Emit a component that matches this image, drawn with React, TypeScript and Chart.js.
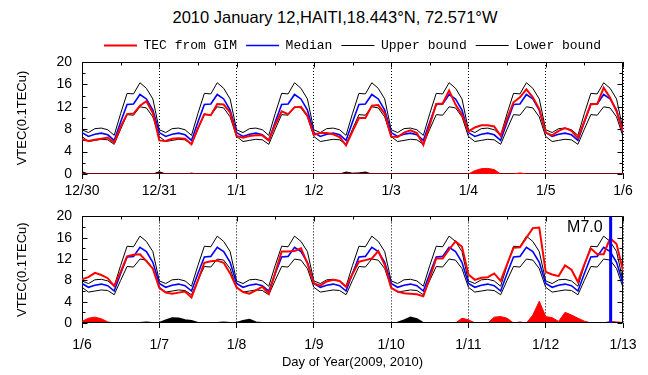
import React, { useEffect, useRef } from "react";
import { Chart, registerables } from "chart.js";

Chart.register(...registerables);

const TITLE = "2010 January 12,HAITI,18.443°N, 72.571°W";
const SERIES_NAMES = ["TEC from GIM", "Median", "Upper bound", "Lower bound"];
const Y_TITLE = "VTEC(0.1TECu)";
const X_TITLE = "Day of Year(2009, 2010)";
const DAY_LABELS_TOP = ["12/30", "12/31", "1/1", "1/2", "1/3", "1/4", "1/5", "1/6"];
const DAY_LABELS_BOTTOM = ["1/6", "1/7", "1/8", "1/9", "1/10", "1/11", "1/12", "1/13"];
const Y_MIN = 0;
const Y_MAX = 20;
const Y_STEP = 4;
const POINTS_PER_DAY = 12;
const QUAKE_DAY = 6.84; // days after 1/6 in lower panel
const QUAKE_LABEL = "M7.0";

// ---------- upper panel (12/30 - 1/6), 2-hour values ----------
const TEC_TOP = [
  6.2, 5.9, 6.1, 6.3, 6.5, 5.6, 8.4, 10.7, 10.8, 12.2, 13.0, 10.9,
  6.0, 5.9, 6.3, 6.4, 6.3, 5.3, 8.2, 10.7, 10.5, 12.5, 12.4, 11.0,
  6.8, 6.5, 6.8, 6.9, 6.9, 6.0, 8.8, 11.2, 10.7, 11.9, 12.0, 10.4,
  7.0, 7.3, 7.3, 7.1, 6.6, 5.1, 7.6, 10.0, 10.0, 12.2, 12.3, 10.8,
  6.7, 6.6, 7.4, 7.8, 7.3, 5.2, 8.8, 12.5, 12.6, 14.9, 12.4, 10.6,
  7.6, 8.3, 8.7, 8.7, 8.5, 6.8, 9.9, 12.8, 13.7, 15.1, 13.7, 11.6,
  7.4, 6.9, 7.7, 8.2, 7.7, 6.4, 9.4, 12.5, 12.5, 15.4, 13.6, 11.2,
  7.6,
];
const MEDIAN_TOP = [
  7.4, 6.7, 7.1, 7.3, 7.0, 6.0, 9.3, 12.4, 12.5, 14.2, 13.4, 11.4,
  7.4, 6.7, 7.1, 7.3, 7.0, 6.0, 9.3, 12.4, 12.5, 14.2, 13.4, 11.4,
  7.4, 6.7, 7.1, 7.3, 7.0, 6.0, 9.3, 12.4, 12.5, 14.2, 13.4, 11.4,
  7.4, 6.7, 7.1, 7.3, 7.0, 6.0, 9.3, 12.4, 12.5, 14.2, 13.4, 11.4,
  7.4, 6.7, 7.1, 7.3, 7.0, 6.0, 9.3, 12.4, 12.5, 14.2, 13.4, 11.4,
  7.4, 6.7, 7.1, 7.3, 7.0, 6.0, 9.3, 12.4, 12.5, 14.2, 13.4, 11.4,
  7.4, 6.7, 7.1, 7.3, 7.0, 6.0, 9.3, 12.4, 12.5, 14.2, 13.4, 11.4,
  7.4,
];
const UPPER_TOP = [
  7.9, 7.4, 8.1, 8.2, 7.9, 6.9, 10.8, 14.4, 14.3, 16.3, 15.3, 13.4,
  7.9, 7.4, 8.1, 8.2, 7.9, 6.9, 10.8, 14.4, 14.3, 16.3, 15.3, 13.4,
  7.9, 7.4, 8.1, 8.2, 7.9, 6.9, 10.8, 14.4, 14.3, 16.3, 15.3, 13.4,
  7.9, 7.4, 8.1, 8.2, 7.9, 6.9, 10.8, 14.4, 14.3, 16.3, 15.3, 13.4,
  7.9, 7.4, 8.1, 8.2, 7.9, 6.9, 10.8, 14.4, 14.3, 16.3, 15.3, 13.4,
  7.9, 7.4, 8.1, 8.2, 7.9, 6.9, 10.8, 14.4, 14.3, 16.3, 15.3, 13.4,
  7.9, 7.4, 8.1, 8.2, 7.9, 6.9, 10.8, 14.4, 14.3, 16.3, 15.3, 13.4,
  7.9,
];
const LOWER_TOP = [
  6.7, 5.8, 6.0, 6.2, 6.1, 5.3, 8.0, 10.6, 10.5, 12.0, 11.8, 10.2,
  6.7, 5.8, 6.0, 6.2, 6.1, 5.3, 8.0, 10.6, 10.5, 12.0, 11.8, 10.2,
  6.7, 5.8, 6.0, 6.2, 6.1, 5.3, 8.0, 10.6, 10.5, 12.0, 11.8, 10.2,
  6.7, 5.8, 6.0, 6.2, 6.1, 5.3, 8.0, 10.6, 10.5, 12.0, 11.8, 10.2,
  6.7, 5.8, 6.0, 6.2, 6.1, 5.3, 8.0, 10.6, 10.5, 12.0, 11.8, 10.2,
  6.7, 5.8, 6.0, 6.2, 6.1, 5.3, 8.0, 10.6, 10.5, 12.0, 11.8, 10.2,
  6.7, 5.8, 6.0, 6.2, 6.1, 5.3, 8.0, 10.6, 10.5, 12.0, 11.8, 10.2,
  6.7,
];
// exceedance above upper bound (red) and below lower bound (black)
const OVER_TOP = [
  0, 0, 0, 0, 0, 0, 0, 0, 0, 0, 0, 0,
  0, 0, 0, 0, 0, 0, 0, 0, 0, 0, 0, 0,
  0, 0, 0, 0, 0, 0, 0, 0, 0, 0, 0, 0,
  0, 0, 0, 0, 0, 0, 0, 0, 0, 0, 0, 0,
  0, 0, 0, 0, 0, 0, 0, 0, 0, 0, 0, 0,
  0, 0.6, 0.95, 1.0, 0.8, 0, 0, 0, 0.2, 0, 0, 0,
  0, 0, 0, 0, 0, 0, 0, 0, 0, 0, 0, 0,
  0,
];
const UNDER_TOP = [
  0.4, 0, 0, 0, 0, 0, 0, 0, 0, 0, 0, 0,
  0.4, 0, 0, 0, 0, 0.15, 0, 0, 0, 0, 0, 0,
  0, 0, 0, 0, 0, 0, 0, 0, 0, 0.1, 0, 0,
  0, 0, 0, 0, 0, 0.35, 0.15, 0.2, 0.35, 0, 0, 0,
  0, 0, 0, 0, 0, 0, 0, 0, 0, 0, 0, 0,
  0, 0, 0, 0, 0, 0, 0, 0, 0, 0, 0, 0,
  0, 0, 0, 0, 0, 0, 0, 0, 0, 0, 0, 0,
  0,
];

// ---------- lower panel (1/6 - 1/13), 2-hour values ----------
const TEC_BOTTOM = [
  8.2, 8.6, 9.4, 9.0, 8.4, 6.9, 9.6, 12.5, 12.8, 12.9, 11.6, 10.2,
  6.6, 5.7, 5.5, 5.7, 5.9, 4.8, 8.0, 11.3, 11.6, 11.7, 11.3, 9.3,
  6.7, 5.8, 5.5, 6.1, 6.8, 5.5, 9.4, 13.4, 13.4, 13.5, 14.0, 11.2,
  7.4, 7.0, 7.8, 8.1, 7.9, 6.8, 9.2, 11.5, 11.8, 12.1, 13.5, 10.9,
  6.6, 5.9, 5.6, 5.5, 5.4, 5.0, 8.5, 12.1, 12.1, 13.8, 15.3, 14.3,
  9.1, 8.1, 8.5, 8.6, 9.3, 7.9, 11.0, 14.1, 14.2, 16.0, 17.8, 17.9,
  9.6, 9.1, 8.8, 10.8, 10.0, 7.7, 11.0, 14.0, 12.9, 12.9, 15.9, 14.8,
  9.8,
];
const MEDIAN_BOTTOM = [
  7.4, 6.7, 7.1, 7.3, 7.0, 6.0, 9.3, 12.4, 12.5, 14.2, 13.4, 11.4,
  7.4, 6.7, 7.1, 7.3, 7.0, 6.0, 9.3, 12.4, 12.5, 14.2, 13.4, 11.4,
  7.4, 6.7, 7.1, 7.3, 7.0, 6.0, 9.3, 12.4, 12.5, 14.2, 13.4, 11.4,
  7.4, 6.7, 7.1, 7.3, 7.0, 6.0, 9.3, 12.4, 12.5, 14.2, 13.4, 11.4,
  7.4, 6.7, 7.1, 7.3, 7.0, 6.0, 9.3, 12.4, 12.5, 14.2, 13.4, 11.4,
  7.4, 6.7, 7.1, 7.3, 7.0, 6.0, 9.3, 12.4, 12.5, 14.2, 13.4, 11.4,
  7.4, 6.7, 7.1, 7.3, 7.0, 6.0, 9.3, 12.4, 12.5, 14.2, 13.4, 11.4,
  7.4,
];
const UPPER_BOTTOM = [
  7.9, 7.4, 8.1, 8.2, 7.9, 6.9, 10.8, 14.4, 14.3, 16.3, 15.3, 13.4,
  7.9, 7.4, 8.1, 8.2, 7.9, 6.9, 10.8, 14.4, 14.3, 16.3, 15.3, 13.4,
  7.9, 7.4, 8.1, 8.2, 7.9, 6.9, 10.8, 14.4, 14.3, 16.3, 15.3, 13.4,
  7.9, 7.4, 8.1, 8.2, 7.9, 6.9, 10.8, 14.4, 14.3, 16.3, 15.3, 13.4,
  7.9, 7.4, 8.1, 8.2, 7.9, 6.9, 10.8, 14.4, 14.3, 16.3, 15.3, 13.4,
  7.9, 7.4, 8.1, 8.2, 7.9, 6.9, 10.8, 14.4, 14.3, 16.3, 15.3, 13.4,
  7.9, 7.4, 8.1, 8.2, 7.9, 6.9, 10.8, 14.4, 14.3, 16.3, 15.3, 13.4,
  7.9,
];
const LOWER_BOTTOM = [
  6.7, 5.8, 6.0, 6.2, 6.1, 5.3, 8.0, 10.6, 10.5, 12.0, 11.8, 10.2,
  6.7, 5.8, 6.0, 6.2, 6.1, 5.3, 8.0, 10.6, 10.5, 12.0, 11.8, 10.2,
  6.7, 5.8, 6.0, 6.2, 6.1, 5.3, 8.0, 10.6, 10.5, 12.0, 11.8, 10.2,
  6.7, 5.8, 6.0, 6.2, 6.1, 5.3, 8.0, 10.6, 10.5, 12.0, 11.8, 10.2,
  6.7, 5.8, 6.0, 6.2, 6.1, 5.3, 8.0, 10.6, 10.5, 12.0, 11.8, 10.2,
  6.7, 5.8, 6.0, 6.2, 6.1, 5.3, 8.0, 10.6, 10.5, 12.0, 11.8, 10.2,
  6.7, 5.8, 6.0, 6.2, 6.1, 5.3, 8.0, 10.6, 10.5, 12.0, 11.8, 10.2,
  6.7,
];
const OVER_BOTTOM = [
  0.3, 0.9, 1.1, 0.8, 0.2, 0, 0, 0, 0, 0, 0, 0,
  0, 0, 0, 0, 0, 0, 0, 0, 0, 0, 0, 0,
  0, 0, 0, 0, 0, 0, 0, 0, 0, 0, 0, 0,
  0, 0, 0, 0, 0, 0, 0, 0, 0, 0, 0, 0,
  0, 0, 0, 0, 0, 0, 0, 0, 0, 0, 0, 0.9,
  0.6, 0, 0, 0, 1.1, 1.2, 0.9, 0, 0.2, 0, 1.5, 4.1,
  1.2, 1.0, 0.3, 2.0, 1.5, 0.9, 0.35, 0, 0, 0, 0.3, 0.2,
  0.1,
];
const UNDER_BOTTOM = [
  0, 0, 0, 0, 0, 0, 0, 0, 0, 0, 0.1, 0,
  0, 0.5, 0.9, 0.85, 0.5, 0.4, 0, 0, 0, 0, 0.1, 0,
  0, 0.4, 0.6, 0.1, 0, 0, 0, 0, 0, 0, 0, 0,
  0, 0, 0, 0, 0, 0, 0, 0, 0, 0, 0, 0,
  0, 0.05, 0.5, 1.0, 0.7, 0, 0, 0, 0, 0, 0, 0,
  0, 0, 0, 0, 0, 0, 0, 0, 0, 0, 0, 0,
  0, 0, 0, 0, 0, 0, 0, 0, 0, 0, 0, 0,
  0,
];

const FONT_SANS = "'Liberation Sans', Arial, sans-serif";
const FONT_MONO = "'Liberation Mono', 'Courier New', monospace";

const toPoints = (arr: number[]) => arr.map((v, i) => ({ x: i / POINTS_PER_DAY, y: v }));

const framePlugin = {
  id: "frame",
  beforeDatasetsDraw(chart: any) {
    const { ctx, chartArea: a, scales } = chart;
    const xs = scales.x;
    const ys = scales.y;
    ctx.save();
    ctx.strokeStyle = "#000";
    ctx.lineWidth = 1;
    ctx.beginPath();
    const L = Math.round(a.left) + 0.5;
    const R = Math.round(a.right) - 0.5;
    const T = Math.round(a.top) + 0.5;
    const B = Math.round(a.bottom) - 0.5;
    ctx.moveTo(L, T);
    ctx.lineTo(R, T);
    ctx.lineTo(R, B);
    ctx.lineTo(L, B);
    ctx.closePath();
    for (let v = Y_MIN; v <= Y_MAX; v += Y_STEP / 2) {
      const py = Math.round(ys.getPixelForValue(v)) + 0.5;
      const len = v % Y_STEP === 0 ? 5 : 3;
      ctx.moveTo(L, py);
      ctx.lineTo(L + len, py);
      ctx.moveTo(R, py);
      ctx.lineTo(R - len, py);
    }
    for (let d = 0; d <= xs.max; d += 0.5) {
      const px = Math.round(xs.getPixelForValue(d)) + 0.5;
      const len = Number.isInteger(d) ? 5 : 3;
      ctx.moveTo(px, T);
      ctx.lineTo(px, T + len);
    }
    ctx.stroke();
    ctx.restore();
  },
};

const quakeLabelPlugin = {
  id: "quakeLabel",
  afterDatasetsDraw(chart: any, _args: any, opts: any) {
    if (!opts || !opts.show) return;
    const { ctx, chartArea: a, scales } = chart;
    const px = scales.x.getPixelForValue(QUAKE_DAY);
    ctx.save();
    ctx.fillStyle = "#000";
    ctx.font = `16px ${FONT_SANS}`;
    ctx.textAlign = "right";
    ctx.textBaseline = "middle";
    ctx.fillText(QUAKE_LABEL, px - 8, a.top + 11);
    ctx.restore();
  },
};

function buildDatasets(
  tec: number[],
  med: number[],
  up: number[],
  low: number[],
  over: number[],
  under: number[],
  bottomPanel: boolean
) {
  const ds: any[] = [
    { label: SERIES_NAMES[0], data: toPoints(tec), borderColor: "#ff0000", backgroundColor: "#ff0000", borderWidth: 2, pointRadius: 0, fill: false, order: 1 },
    { label: SERIES_NAMES[1], data: toPoints(med), borderColor: "#0000ff", backgroundColor: "#0000ff", borderWidth: 1.6, pointRadius: 0, fill: false, order: 2 },
    { label: SERIES_NAMES[2], data: toPoints(up), borderColor: "#000000", backgroundColor: "#000000", borderWidth: 1, pointRadius: 0, fill: false, order: 3 },
    { label: SERIES_NAMES[3], data: toPoints(low), borderColor: "#000000", backgroundColor: "#000000", borderWidth: 1, pointRadius: 0, fill: false, order: 4 },
    { label: "over", data: toPoints(over), borderColor: "#ff0000", backgroundColor: "#ff0000", borderWidth: 1, pointRadius: 0, fill: "origin", order: bottomPanel ? 6 : 5 },
    { label: "under", data: toPoints(under), borderColor: "#000000", backgroundColor: "#000000", borderWidth: bottomPanel ? 2 : 1, pointRadius: 0, fill: "origin", order: bottomPanel ? 5 : 6 },
  ];
  if (bottomPanel) {
    ds.push({
      label: "quake",
      data: [
        { x: QUAKE_DAY, y: Y_MIN },
        { x: QUAKE_DAY, y: Y_MAX },
      ],
      borderColor: "#0000ff",
      backgroundColor: "#0000ff",
      borderWidth: 3,
      pointRadius: 0,
      fill: false,
      order: 0,
    });
  }
  return ds;
}

function makeOptions(dayLabels: string[], isTop: boolean, xHeight: number) {
  return {
    responsive: false,
    maintainAspectRatio: false,
    animation: false as const,
    devicePixelRatio: 1,
    events: [] as any[],
    layout: { padding: { left: 0, right: 25, top: isTop ? 30 : 12, bottom: 0 } },
    plugins: {
      title: { display: false },
      legend: {
        display: isTop,
        position: "top" as const,
        fullSize: false,
        labels: {
          usePointStyle: true,
          pointStyle: "line",
          pointStyleWidth: 33,
          boxHeight: 13,
          padding: 9,
          color: "#000",
          font: { family: FONT_MONO, size: 13 },
          filter: (item: any) => item.datasetIndex < 4,
        },
      },
      tooltip: { enabled: false },
      quakeLabel: { show: !isTop },
    },
    scales: {
      x: {
        type: "linear" as const,
        min: 0,
        max: dayLabels.length - 1,
        afterFit: (s: any) => {
          s.height = xHeight;
        },
        ticks: {
          stepSize: 1,
          autoSkip: false,
          maxRotation: 0,
          padding: isTop ? 4 : 9,
          color: "#000",
          font: { family: FONT_SANS, size: 14 },
          callback: (v: any) => dayLabels[Math.round(Number(v))] ?? "",
        },
        grid: {
          display: true,
          color: "#000",
          lineWidth: 1,
          drawTicks: true,
          tickLength: 5,
          tickColor: "#000",
          tickWidth: 1,
        },
        border: { display: false, dash: [1, 2] },
        title: {
          display: !isTop,
          text: X_TITLE,
          color: "#000",
          font: { family: FONT_SANS, size: 13 },
          padding: { top: 0, bottom: 5 },
        },
      },
      y: {
        type: "linear" as const,
        min: Y_MIN,
        max: Y_MAX,
        afterFit: (s: any) => {
          s.width = 82;
        },
        ticks: {
          stepSize: Y_STEP,
          padding: 10,
          color: "#000",
          font: { family: FONT_SANS, size: 14 },
        },
        grid: { display: false, drawTicks: false },
        border: { display: false },
        title: {
          display: true,
          text: Y_TITLE,
          color: "#000",
          font: { family: FONT_SANS, size: 13 },
          padding: { top: 15, bottom: 0 },
        },
      },
    },
  };
}

export default function App() {
  const topRef = useRef<HTMLCanvasElement | null>(null);
  const bottomRef = useRef<HTMLCanvasElement | null>(null);

  useEffect(() => {
    if (!topRef.current || !bottomRef.current) return;
    const top = new Chart(topRef.current, {
      type: "line",
      data: {
        datasets: buildDatasets(TEC_TOP, MEDIAN_TOP, UPPER_TOP, LOWER_TOP, OVER_TOP, UNDER_TOP, false),
      },
      options: makeOptions(DAY_LABELS_TOP, true, 24) as any,
      plugins: [framePlugin, quakeLabelPlugin],
    });
    const bottom = new Chart(bottomRef.current, {
      type: "line",
      data: {
        datasets: buildDatasets(TEC_BOTTOM, MEDIAN_BOTTOM, UPPER_BOTTOM, LOWER_BOTTOM, OVER_BOTTOM, UNDER_BOTTOM, true),
      },
      options: makeOptions(DAY_LABELS_BOTTOM, false, 52) as any,
      plugins: [framePlugin, quakeLabelPlugin],
    });
    return () => {
      top.destroy();
      bottom.destroy();
    };
  }, []);

  return (
    <div style={{ position: "absolute", left: 0, top: 0, width: 648, height: 375, background: "#fff" }}>
      <div
        style={{
          position: "absolute",
          left: 0,
          top: 7,
          width: 670,
          textAlign: "center",
          fontFamily: FONT_SANS,
          fontSize: 16.5,
          lineHeight: "20px",
          color: "#000",
          whiteSpace: "nowrap",
        }}
      >
        {TITLE}
      </div>
      <canvas ref={topRef} width={648} height={198} style={{ position: "absolute", left: 0, top: 0, width: 648, height: 198 }} />
      <canvas ref={bottomRef} width={648} height={177} style={{ position: "absolute", left: 0, top: 198, width: 648, height: 177 }} />
    </div>
  );
}
